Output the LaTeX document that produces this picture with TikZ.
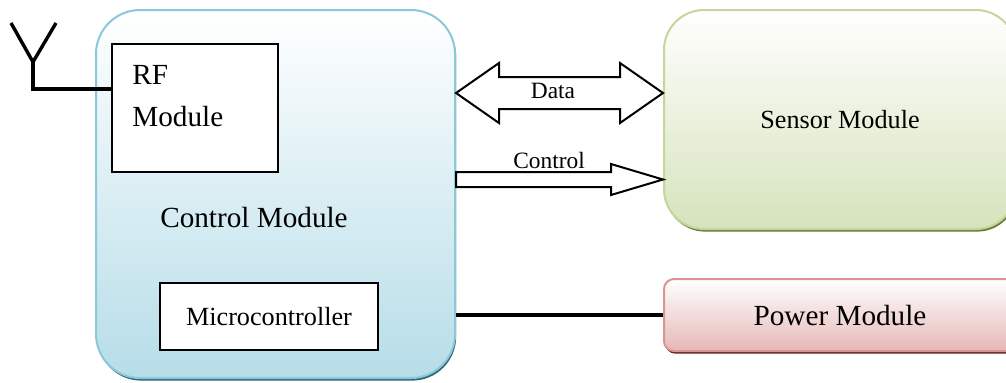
\documentclass[tikz,border=0pt]{standalone}
\usepackage{fontspec}
\setmainfont{Liberation Serif}
\usepackage{tikz}
\usetikzlibrary{calc, shadows, positioning}
\definecolor{ctrlborder}{RGB}{140, 200, 215}
\definecolor{ctrlfill}{RGB}{182, 221, 232}
\definecolor{ctrlshadow}{RGB}{49, 104, 118}
\definecolor{sensorborder}{RGB}{195, 214, 155}
\definecolor{sensorfill}{RGB}{214, 227, 188}
\definecolor{sensorshadow}{RGB}{100, 125, 55}
\definecolor{powerborder}{RGB}{217, 149, 148}
\definecolor{powerfill}{RGB}{229, 184, 183}
\definecolor{powershadow}{RGB}{99, 37, 35}

\begin{document}
\begin{tikzpicture}[
    x=0.5pt, y=-0.5pt,
    bigtext/.style={font=\fontsize{14.6}{21}\selectfont},
    midtext/.style={font=\fontsize{13.1}{16}\selectfont},
    smalltext/.style={font=\fontsize{11.7}{14}\selectfont},
    ctrlbox/.style={draw=ctrlborder, line width=1pt, top color=white, bottom color=ctrlfill, rounded corners=22pt, inner sep=0pt, minimum width=179.5pt, minimum height=184pt, drop shadow={opacity=1, fill=ctrlshadow, shadow xshift=0.6pt, shadow yshift=-1.3pt}},
    sensorbox/.style={draw=sensorborder, line width=1pt, top color=white, bottom color=sensorfill, rounded corners=20pt, inner sep=0pt, minimum width=176pt, minimum height=109.5pt, midtext, drop shadow={opacity=1, fill=sensorshadow, shadow xshift=0.6pt, shadow yshift=-1.3pt}},
    powerbox/.style={draw=powerborder, line width=1pt, top color=white, bottom color=powerfill, rounded corners=5pt, inner sep=0pt, minimum width=176pt, minimum height=36pt, bigtext, drop shadow={opacity=1, fill=powershadow, shadow xshift=0.6pt, shadow yshift=-1.3pt}},
    plainbox/.style={draw, line width=1pt, fill=white, inner sep=0pt},
    blockarrow/.style={draw, line width=1pt, fill=white, line join=miter},
    wire/.style={line width=1.7pt}
]
    \useasboundingbox (0,0) rectangle (1006,382);
    \clip (0,0) rectangle (1006,382);

    % Modules
    \node[ctrlbox] (ctrl) at (275.5,194) {};
    \node[sensorbox] (sensor) at (840,119.5) {Sensor Module};
    \node[powerbox] (power) at (840,315) {Power Module};

    % Inside the control module
    \node[plainbox, minimum width=83pt, minimum height=64pt] (rf) at (195,108) {};
    \node[bigtext, anchor=north west, align=left, inner sep=0pt] (rftext) at ($(rf.north west)+(21,22)$) {RF\\Module};
    \node[bigtext] (ctrltext) at (254,218) {Control Module};
    \node[plainbox, midtext, minimum width=109pt, minimum height=33.5pt] (micro) at (269,316.5) {Microcontroller};

    % Antenna
    \coordinate (antbase) at (33,89);
    \coordinate (antfork) at (33,62);
    \draw[wire, line join=miter] (rf.west |- antbase) -- (antbase) -- (antfork);
    \draw[wire, line join=miter] (11,23) -- (antfork) -- (56,23);

    % Arrows
    \coordinate (dataL) at (ctrl.east |- 0,93);
    \coordinate (dataR) at (sensor.west |- 0,93);
    \draw[blockarrow] (dataL) -- ++(43,-30) -- ++(0,14) -- ($(dataR)+(-43,-16)$) -- ++(0,-14) -- (dataR)
        -- ++(-43,30) -- ++(0,-14) -- ($(dataL)+(43,16)$) -- ++(0,14) -- cycle;
    \node[smalltext] (datalabel) at (553,91) {Data};

    \coordinate (ctlL) at (ctrl.east |- 0,179.5);
    \coordinate (ctlR) at (sensor.west |- 0,179.5);
    \draw[blockarrow] ($(ctlL)+(0,-7.5)$) -- ($(ctlR)+(-52,-7.5)$) -- ++(0,-8) -- (ctlR)
        -- ++(-52,15.5) -- ++(0,-8) -- ($(ctlL)+(0,7.5)$) -- cycle;
    \node[smalltext] (ctllabel) at (549,160) {Control};

    \draw[wire] (ctrl.east |- power.west) -- (power.west);
\end{tikzpicture}
\end{document}
